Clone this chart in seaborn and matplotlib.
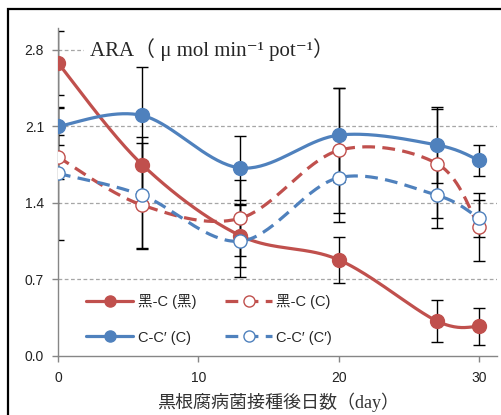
import numpy as np
import pandas as pd
import matplotlib
matplotlib.use('Agg')
import matplotlib.pyplot as plt
from matplotlib.lines import Line2D
from matplotlib.patches import Rectangle
import seaborn as sns

# days after inoculation
days = [0, 6, 13, 20, 27, 30]

# ARA values, with error bar half-widths
kuro_kuro = [2.68, 1.75, 1.10, 0.88, 0.32, 0.27]
kuro_kuro_err = [0.29, 0.25, 0.29, 0.21, 0.19, 0.17]
kuro_c = [1.82, 1.38, 1.26, 1.88, 1.76, 1.18]
kuro_c_err = [0.20, 0.40, 0.35, 0.57, 0.50, 0.31]
cc_c = [2.10, 2.20, 1.72, 2.02, 1.93, 1.79]
cc_c_err = [0.17, 0.44, 0.29, 0.43, 0.35, 0.14]
cc_cp = [1.67, 1.47, 1.05, 1.63, 1.47, 1.26]
cc_cp_err = [0.61, 0.48, 0.33, 0.40, 0.30, 0.17]

labels = ['黑-C (黑)', '黑-C (C)', 'C-C′ (C)', 'C-C′ (C′)']
yticks = [0.0, 0.7, 1.4, 2.1, 2.8]
xticks = [0, 10, 20, 30]

RED = '#C0504D'
BLUE = '#4F81BD'


def smooth(x, y, n=40):
    # excel-style smoothed line (cubic bezier, catmull-rom control points)
    x = np.asarray(x, float)
    y = np.asarray(y, float)
    px = np.r_[x[0], x, x[-1]]
    py = np.r_[y[0], y, y[-1]]
    t = np.linspace(0, 1, n)[:, None]
    xs, ys = [], []
    for i in range(len(x) - 1):
        p0 = np.array([px[i + 1], py[i + 1]])
        p3 = np.array([px[i + 2], py[i + 2]])
        c1 = p0 + (np.array([px[i + 2], py[i + 2]]) - np.array([px[i], py[i]])) / 6
        c2 = p3 - (np.array([px[i + 3], py[i + 3]]) - np.array([px[i + 1], py[i + 1]])) / 6
        b = (1 - t) ** 3 * p0 + 3 * (1 - t) ** 2 * t * c1 + 3 * (1 - t) * t ** 2 * c2 + t ** 3 * p3
        xs.append(b[:, 0])
        ys.append(b[:, 1])
    return np.concatenate(xs), np.concatenate(ys)


sns.set_style('white')
plt.rcParams['font.family'] = ['Liberation Sans', 'Noto Sans CJK JP', 'DejaVu Sans']

fig = plt.figure(figsize=(5.02, 4.15), dpi=100)
ax = fig.add_axes([0.1155, 0.1422, 0.875, 0.7904])

series = [
    (kuro_kuro, kuro_kuro_err, RED, '-', True),
    (kuro_c, kuro_c_err, RED, (0, (4, 2.3)), False),
    (cc_c, cc_c_err, BLUE, '-', True),
    (cc_cp, cc_cp_err, BLUE, (0, (4, 2.3)), False),
]

for vals, err, col, ls, filled in series:
    ax.errorbar(days, vals, yerr=err, fmt='none', ecolor='black',
                elinewidth=1.0, capsize=4, capthick=1.0, zorder=2)

for vals, err, col, ls, filled in series:
    sx, sy = smooth(days, vals)
    df = pd.DataFrame({'day': sx, 'ara': sy})
    sns.lineplot(data=df, x='day', y='ara', ax=ax, color=col, lw=2.3,
                 linestyle=ls, sort=False, estimator=None, zorder=3)
    ax.plot(days, vals, 'o', ms=10 if filled else 9.5,
            mfc=col if filled else 'white', mec=col,
            mew=1.0, zorder=4, ls='none')

ax.set_xlim(0, 31.3)
ax.set_ylim(0, 3.0)
ax.set_xticks(xticks)
ax.set_yticks(yticks)
ax.set_yticklabels([f'{v:.1f}' for v in yticks])
for v in yticks[1:]:
    ax.axhline(v, color='#A6A6A6', lw=0.9, ls=(0, (3, 2)), zorder=1)

# white box behind the title hides the 2.8 grid line
ax.add_patch(Rectangle((0.06, 0.89), 0.94, 0.09, transform=ax.transAxes,
                       facecolor='white', edgecolor='none', zorder=1.5))
ax.text(2.3, 2.8, 'ARA（ μ mol min⁻¹ pot⁻¹）', fontsize=15, va='center', ha='left',
        family=['Liberation Serif', 'DejaVu Serif', 'Noto Sans CJK JP'], zorder=5)

for s in ['top', 'right']:
    ax.spines[s].set_visible(False)
for s in ['left', 'bottom']:
    ax.spines[s].set_color('#868686')
    ax.spines[s].set_linewidth(1.0)
ax.tick_params(axis='both', direction='out', length=4, width=1.0, color='#868686',
               labelsize=10, labelcolor='#222222', pad=6)
ax.tick_params(axis='x', bottom=True, pad=7)
ax.tick_params(axis='y', left=True)

ax.set_xlabel('黒根腐病菌接種後日数（day）', fontsize=13, labelpad=5,
              family=['Liberation Serif', 'Noto Sans CJK JP'], color='#333333')
ax.set_ylabel('')

handles = []
for vals, err, col, ls, filled in [series[0], series[2], series[1], series[3]]:
    handles.append(Line2D([], [], color=col, lw=2.3, linestyle=ls, marker='o', ms=8,
                          mfc=col if filled else 'white', mec=col, mew=1.0))
leg_labels = [labels[0], labels[2], labels[1], labels[3]]
ax.legend(handles, leg_labels, ncol=2, loc='lower left', bbox_to_anchor=(0.035, -0.005),
          frameon=False, fontsize=10.5, handlelength=3.2, handletextpad=0.3,
          labelspacing=1.45, columnspacing=2.0)

# thick black frame around the picture (cropped on right / bottom)
fig.add_artist(Rectangle((8 / 502, -0.2), 1.5, 1 - 9 / 415 + 0.2, transform=fig.transFigure,
                         fill=False, edgecolor='black', lw=1.6, clip_on=False))

fig.savefig('out.png', dpi=100)
